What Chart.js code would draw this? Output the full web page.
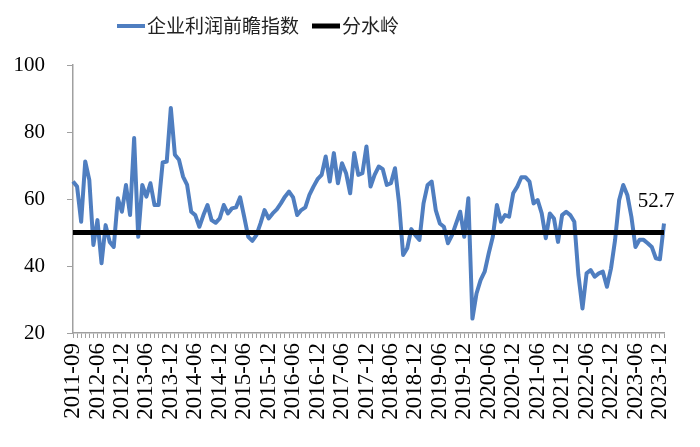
<!DOCTYPE html>
<html><head><meta charset="utf-8">
<script src="https://cdn.jsdelivr.net/npm/chart.js@4/dist/chart.umd.min.js"></script>
<style>html,body{margin:0;padding:0;background:#fff}#wrap{width:700px;height:447px;position:relative}</style>
</head><body><div id="wrap"><canvas id="c" width="700" height="447"></canvas></div>
<script>
const categories = [
 "2011-09","2011-12","2012-02","2012-03","2012-04","2012-05",
 "2012-06","2012-07","2012-08","2012-09","2012-10","2012-11","2012-12",
 "2013-01","2013-02","2013-03","2013-04","2013-05","2013-06","2013-07","2013-08","2013-09","2013-10","2013-11","2013-12",
 "2014-01","2014-02","2014-03","2014-04","2014-05","2014-06","2014-07","2014-08","2014-09","2014-10","2014-11","2014-12",
 "2015-01","2015-02","2015-03","2015-04","2015-05","2015-06","2015-07","2015-08","2015-09","2015-10","2015-11","2015-12",
 "2016-01","2016-02","2016-03","2016-04","2016-05","2016-06","2016-07","2016-08","2016-09","2016-10","2016-11","2016-12",
 "2017-01","2017-02","2017-03","2017-04","2017-05","2017-06","2017-07","2017-08","2017-09","2017-10","2017-11","2017-12",
 "2018-01","2018-02","2018-03","2018-04","2018-05","2018-06","2018-07","2018-08","2018-09","2018-10","2018-11","2018-12",
 "2019-01","2019-02","2019-03","2019-04","2019-05","2019-06","2019-07","2019-08","2019-09","2019-10","2019-11","2019-12",
 "2020-01","2020-02","2020-03","2020-04","2020-05","2020-06","2020-07","2020-08","2020-09","2020-10","2020-11","2020-12",
 "2021-01","2021-02","2021-03","2021-04","2021-05","2021-06","2021-07","2021-08","2021-09","2021-10","2021-11","2021-12",
 "2022-01","2022-02","2022-03","2022-04","2022-05","2022-06","2022-07","2022-08","2022-09","2022-10","2022-11","2022-12",
 "2023-01","2023-02","2023-03","2023-04","2023-05","2023-06","2023-07","2023-08","2023-09","2023-10","2023-11","2023-12",
 "2024-01"
];
const profitIndex = [
 65.2, 63.7, 53.2, 71.2, 65.7, 46.3, 53.7, 40.8, 52.2, 47.2, 45.7, 60.2, 56.2, 64.2, 55.2, 78.2, 48.7, 64.2,
 60.7, 64.7, 58.2, 58.2, 70.9, 71.2, 87.2, 73.2, 71.7, 66.7, 64.2, 56.2, 55.2, 51.7, 55.2, 58.2, 53.7, 52.9,
 54.2, 58.2, 55.7, 57.2, 57.5, 60.5, 54.7, 48.7, 47.5, 49.2, 52.7, 56.7, 54.2, 55.7, 56.9, 58.7, 60.7, 62.2,
 60.5, 55.2, 56.7, 57.5, 61.2, 63.7, 65.9, 67.2, 72.7, 65.2, 73.7, 64.7, 70.7, 67.7, 61.7, 73.7, 67.2, 67.7,
 75.7, 63.7, 67.2, 69.7, 68.9, 64.2, 64.7, 69.2,
 58.7, 43.3, 45.3, 51.0, 49.2, 47.8, 58.7, 64.2, 65.2, 56.7, 52.7, 51.7, 46.8, 49.2, 52.7, 56.2, 48.7, 60.2,
 24.3, 31.8, 35.8, 38.3, 43.8, 48.7, 58.2, 53.2, 55.2, 54.7, 61.7, 63.7, 66.5, 66.5, 65.2, 58.7, 59.7,
 55.7, 48.3, 55.7, 54.2, 47.2, 55.2, 56.2, 55.2, 53.2, 37.3, 27.3, 37.8, 38.8, 36.8, 37.8, 38.3, 33.8, 39.3,
 47.8, 59.7, 64.2, 61.2, 54.7, 45.7, 47.8, 47.8, 46.8, 45.7, 42.3, 42.0, 52.7
];
const thresholdValue = 50;
const thresholdSeries = categories.map(() => thresholdValue);
const yRange = [20, 100];
const yStep = 20;
const seriesNames = ["企业利润前瞻指数", "分水岭"];
const lastValueLabel = "52.7";

const BLUE = '#4f7ec0';
const AXIS = '#a0a0a0';

const legendPlugin = {
  id: 'customLegend',
  afterDraw(chart) {
    const ctx = chart.ctx;
    ctx.save();
    ctx.font = '19px "Noto Sans CJK SC"';
    ctx.textBaseline = 'middle';
    ctx.fillStyle = '#222';
    ctx.lineCap = 'butt';
    ctx.strokeStyle = BLUE; ctx.lineWidth = 4;
    ctx.beginPath(); ctx.moveTo(117, 26); ctx.lineTo(145, 26); ctx.stroke();
    ctx.textAlign = 'left';
    ctx.fillText(seriesNames[0], 147, 26);
    ctx.strokeStyle = '#000'; ctx.lineWidth = 5;
    ctx.beginPath(); ctx.moveTo(312, 26); ctx.lineTo(340, 26); ctx.stroke();
    ctx.fillText(seriesNames[1], 342, 26);
    ctx.restore();
  }
};

const lastLabelPlugin = {
  id: 'lastLabel',
  afterDatasetsDraw(chart) {
    const meta = chart.getDatasetMeta(0);
    const pt = meta.data[meta.data.length - 1];
    const ctx = chart.ctx;
    ctx.save();
    ctx.font = '21px "Liberation Serif"';
    ctx.fillStyle = '#000';
    ctx.textAlign = 'center';
    ctx.textBaseline = 'middle';
    ctx.fillText(lastValueLabel, pt.x - 8, pt.y - 22);
    ctx.restore();
  }
};

new Chart(document.getElementById('c'), {
  type: 'line',
  data: {
    labels: categories,
    datasets: [
      { label: seriesNames[0], data: profitIndex, borderColor: BLUE, borderWidth: 4, pointRadius: 0, tension: 0, order: 2, borderJoinStyle: 'round' },
      { label: seriesNames[1], data: thresholdSeries, borderColor: '#000', borderWidth: 5, pointRadius: 0, tension: 0, order: 1 }
    ]
  },
  options: {
    responsive: false,
    animation: false,
    layout: { padding: { top: 65, right: 36, left: 0, bottom: 0 } },
    plugins: { legend: { display: false }, tooltip: { enabled: false } },
    scales: {
      x: {
        offset: false,
        grid: { display: true, drawOnChartArea: false, drawTicks: true, tickLength: 5, color: AXIS },
        border: { display: true, color: AXIS, width: 1.5 },
        ticks: {
          autoSkip: false, maxRotation: 90, minRotation: 90, padding: 5,
          font: { family: 'Liberation Serif', size: 23 }, color: '#000',
          callback: (v, i) => (i % 6 === 0 ? categories[i] : '')
        },
        afterFit: s => { s.height = 114; }
      },
      y: {
        min: yRange[0], max: yRange[1],
        ticks: { stepSize: yStep, padding: 22, font: { family: 'Liberation Serif', size: 21 }, color: '#000' },
        grid: { drawOnChartArea: false, drawTicks: true, tickLength: 6, color: AXIS },
        border: { display: true, color: AXIS, width: 1.5 },
        afterFit: s => { s.width = 73; }
      }
    }
  },
  plugins: [legendPlugin, lastLabelPlugin]
});
</script></body></html>
